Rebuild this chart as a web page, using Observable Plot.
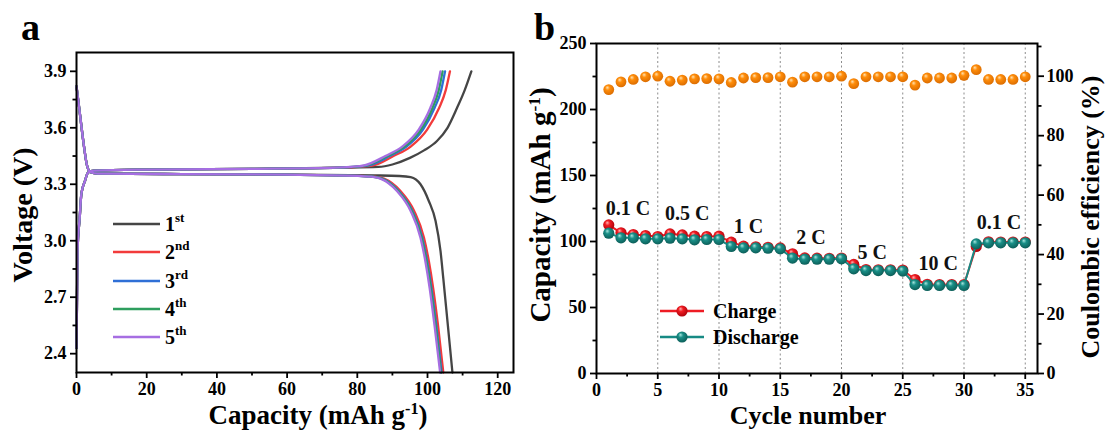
<!DOCTYPE html>
<html>
<head>
<meta charset="utf-8">
<script src="https://cdn.jsdelivr.net/npm/d3@7"></script>
<script src="https://cdn.jsdelivr.net/npm/@observablehq/plot@0.6"></script>
<style>
  html, body { margin: 0; padding: 0; background: #fff; }
  #fig { position: relative; width: 1106px; height: 430px; overflow: hidden; background: #fff;
         font-family: "Liberation Serif", "Times New Roman", serif; }
  #fig svg { position: absolute; top: 0; }
</style>
</head>
<body>
<div id="fig"></div>
<script>
// ---------- (a) galvanostatic charge/discharge profiles ----------
const cycleNames  = ["1st", "2nd", "3rd", "4th", "5th"];
const cycleColors = ["#454545", "#f23b3b", "#2f6fd6", "#2e9e5e", "#a66ee2"];

// [capacity (mAh/g), voltage (V)] pairs for each cycle
const chargeCurves = [
  [[0,2.43],[0.15,2.7],[0.3,2.95],[0.9,3.12],[1.4,3.25],[2.4,3.317],[3.3,3.362],[5,3.372],[20,3.378],[50,3.382],[75,3.388],
   [86,3.392],[90,3.405],[95,3.44],[99,3.48],[102.7,3.53],[105.7,3.6],[108.4,3.705],[110.6,3.8],[112.5,3.9]],
  [[0,2.43],[0.15,2.7],[0.3,2.95],[0.9,3.12],[1.4,3.25],[2.4,3.317],[3.3,3.362],[5,3.372],[20,3.378],[50,3.382],[75,3.388],
   [80,3.392],[84.5,3.40],[90.3,3.45],[95.2,3.5],[99.9,3.59],[103.3,3.705],[105.2,3.8],[106.4,3.9]],
  [[0,2.43],[0.15,2.7],[0.3,2.95],[0.9,3.12],[1.4,3.25],[2.4,3.317],[3.3,3.362],[5,3.372],[20,3.378],[50,3.382],[75,3.388],
   [79,3.392],[83.3,3.40],[89.2,3.45],[94,3.5],[98.7,3.59],[102,3.705],[103.9,3.8],[105,3.9]],
  [[0,2.43],[0.15,2.7],[0.3,2.95],[0.9,3.12],[1.4,3.25],[2.4,3.317],[3.3,3.362],[5,3.372],[20,3.378],[50,3.382],[75,3.388],
   [78.5,3.392],[82.7,3.40],[88.6,3.45],[93.4,3.5],[98.1,3.59],[101.4,3.705],[103.2,3.8],[104.3,3.9]],
  [[0,2.43],[0.15,2.7],[0.3,2.95],[0.9,3.12],[1.4,3.25],[2.4,3.317],[3.3,3.362],[5,3.372],[20,3.378],[50,3.382],[74,3.388],
   [78,3.392],[82,3.40],[88,3.45],[92.8,3.5],[97.5,3.59],[100.8,3.705],[102.6,3.8],[103.7,3.9]]
];

const dischargeCurves = [
  [[0,3.82],[1,3.67],[2,3.52],[3,3.40],[4,3.364],[6,3.357],[30,3.354],[60,3.351],
   [85,3.347],[92,3.344],[95.2,3.338],[98,3.30],[100.4,3.21],[102.3,3.105],[103.7,2.946],[104.5,2.8],[105.8,2.55],[107.1,2.3]],
  [[0,3.82],[1,3.67],[2,3.52],[3,3.40],[4,3.364],[6,3.357],[30,3.354],[60,3.351],
   [81,3.345],[85,3.34],[87.6,3.33],[92.3,3.264],[96.2,3.158],[99,3.016],[100.4,2.89],[101.6,2.75],[103,2.55],[104.5,2.3]],
  [[0,3.82],[1,3.67],[2,3.52],[3,3.40],[4,3.364],[6,3.357],[30,3.354],[60,3.351],
   [80.5,3.345],[84.5,3.34],[87.1,3.33],[91.8,3.264],[95.7,3.158],[98.5,3.016],[99.9,2.89],[101.1,2.75],[102.5,2.55],[104,2.3]],
  [[0,3.82],[1,3.67],[2,3.52],[3,3.40],[4,3.364],[6,3.357],[30,3.354],[60,3.351],
   [80.3,3.345],[84.3,3.34],[86.9,3.33],[91.6,3.264],[95.5,3.158],[98.3,3.016],[99.7,2.89],[100.9,2.75],[102.3,2.55],[103.8,2.3]],
  [[0,3.82],[1,3.67],[2,3.52],[3,3.40],[4,3.364],[6,3.357],[30,3.354],[60,3.351],
   [80,3.345],[84,3.34],[86.6,3.33],[91.3,3.264],[95.2,3.158],[98,3.016],[99.4,2.89],[100.6,2.75],[102,2.55],[103.6,2.3]]
];

const capacityTicksA      = [0, 20, 40, 60, 80, 100, 120];
const capacityMinorTicksA = [10, 30, 50, 70, 90, 110];
const voltageTicks        = [2.4, 2.7, 3.0, 3.3, 3.6, 3.9];
const voltageMinorTicks   = [2.55, 2.85, 3.15, 3.45, 3.75];

// ---------- (b) rate capability ----------
const cycleNumbers = [1,2,3,4,5,6,7,8,9,10,11,12,13,14,15,16,17,18,19,20,21,22,23,24,25,26,27,28,29,30,31,32,33,34,35];
const chargeCapacity = [112.6,106.6,105.3,104.5,103.8,105.8,105,104,103.8,104,
                        99.5,96.5,96,95.6,95.1,90.7,87.6,87.4,87.3,87.5,
                        82.6,78.8,78.6,78.6,78.4,71.2,67.6,67.4,67.4,67.4,
                        96.2,99.8,99.6,99.6,99.6];
const dischargeCapacity = [106.3,102.8,102.8,102,102,102.5,102,101.3,101.5,101.5,
                           96.2,95.2,95.2,94.9,94.4,87.4,86.6,86.6,86.6,86.9,
                           79.3,78,78,78,77.6,67.4,66.7,66.7,66.7,66.7,
                           98.2,99,99,99,99];
const coulombicEfficiency = [95.5,98.1,98.9,99.8,100,98.3,98.7,99.1,99.2,99.1,
                             97.9,99.4,99.5,99.5,99.8,98,99.8,99.8,99.8,100,
                             97.5,99.8,99.8,99.8,99.8,97,99.4,99.4,99.4,100.3,
                             102.2,98.9,98.9,98.9,99.8];

const rateLabels        = ["0.1 C", "0.5 C", "1 C", "2 C", "5 C", "10 C", "0.1 C"];
const rateLabelCycle    = [2.57, 7.4, 12.4, 17.5, 22.5, 27.9, 32.85];
const rateLabelCapacity = [125, 121.2, 111.4, 103, 91.7, 83.3, 114.4];

const cycleTicks        = [0, 5, 10, 15, 20, 25, 30, 35];
const cycleMinorTicks   = [2.5, 7.5, 12.5, 17.5, 22.5, 27.5, 32.5];
const guideCycles       = [5, 10, 15, 20, 25, 30, 35];
const capacityTicksB    = [0, 50, 100, 150, 200, 250];
const capacityMinorB    = [25, 75, 125, 175, 225];
const efficiencyTicks   = [0, 20, 40, 60, 80, 100];
const efficiencyMinor   = [10, 30, 50, 70, 90, 110];

// ---------- shared styling ----------
const serif = "'Liberation Serif', 'Times New Roman', serif";
const baseStyle = { fontFamily: serif, fontWeight: "bold", fontSize: "18px", color: "#000", background: "transparent", overflow: "visible" };
const tickText = { fontSize: 18, fontWeight: "bold", label: null, strokeWidth: 1.8 };

const fig = document.getElementById("fig");

// ---------- panel (a) ----------
const profileRows = [];
cycleNames.forEach((name, i) => {
  chargeCurves[i].forEach(([c, v]) => profileRows.push({ cycle: name, branch: "charge", cap: c, v }));
  dischargeCurves[i].forEach(([c, v]) => profileRows.push({ cycle: name, branch: "discharge", cap: c, v }));
});

const plotA = Plot.plot({
  width: 530, height: 430,
  marginLeft: 76, marginRight: 17, marginTop: 52, marginBottom: 58,
  x: { domain: [0, 124.5] },
  y: { domain: [2.3, 4.0] },
  color: { domain: cycleNames, range: cycleColors },
  style: baseStyle,
  marks: [
    Plot.line(profileRows, { x: "cap", y: "v", z: d => d.cycle + d.branch, stroke: "cycle", strokeWidth: 2.3, curve: "monotone-x" }),
    Plot.axisX({ ticks: capacityTicksA, tickSize: 6, tickPadding: 4, ...tickText }),
    Plot.axisX({ ticks: capacityMinorTicksA, tickSize: 3.5, tickFormat: () => "", label: null, strokeWidth: 1.8 }),
    Plot.axisY({ ticks: voltageTicks, tickSize: 6, tickPadding: 4, tickFormat: d3.format(".1f"), ...tickText }),
    Plot.axisY({ ticks: voltageMinorTicks, tickSize: 3.5, tickFormat: () => "", label: null, strokeWidth: 1.8 }),
    Plot.frame({ stroke: "#000", strokeWidth: 2 })
  ]
});
plotA.style.left = "0px";
fig.appendChild(plotA);

// ---------- panel (b): capacity ----------
const chargeRows    = cycleNumbers.map((n, i) => ({ n, cap: chargeCapacity[i] }));
const dischargeRows = cycleNumbers.map((n, i) => ({ n, cap: dischargeCapacity[i] }));
const effRows       = cycleNumbers.map((n, i) => ({ n, ce: coulombicEfficiency[i] }));
const rateRows      = rateLabels.map((label, i) => ({ label, n: rateLabelCycle[i], cap: rateLabelCapacity[i] }));

const ballDefs = `
  <radialGradient id="ballRed" cx="0.45" cy="0.42" r="0.62" fx="0.36" fy="0.3">
    <stop offset="0" stop-color="#ffb0b0"/><stop offset="0.35" stop-color="#f01c22"/><stop offset="1" stop-color="#a8000a"/>
  </radialGradient>
  <radialGradient id="ballTeal" cx="0.45" cy="0.42" r="0.62" fx="0.36" fy="0.3">
    <stop offset="0" stop-color="#a8e6df"/><stop offset="0.35" stop-color="#1a9088"/><stop offset="1" stop-color="#0b5a55"/>
  </radialGradient>
  <radialGradient id="ballOrange" cx="0.45" cy="0.42" r="0.62" fx="0.36" fy="0.3">
    <stop offset="0" stop-color="#ffe2b0"/><stop offset="0.35" stop-color="#ff8d0a"/><stop offset="1" stop-color="#d86a00"/>
  </radialGradient>`;

const bMargins = { width: 576, height: 430, marginLeft: 66, marginRight: 69, marginTop: 43, marginBottom: 57 };

const plotB = Plot.plot({
  ...bMargins,
  x: { domain: [0, 36] },
  y: { domain: [0, 250] },
  style: baseStyle,
  marks: [
    Plot.ruleX(guideCycles, { stroke: "#8c8c8c", strokeWidth: 1, strokeDasharray: "2,2.5" }),
    Plot.line(chargeRows, { x: "n", y: "cap", stroke: "#ee1c24", strokeWidth: 2 }),
    Plot.dot(chargeRows, { x: "n", y: "cap", r: 5.6, fill: "url(#ballRed)" }),
    Plot.line(dischargeRows, { x: "n", y: "cap", stroke: "#178a84", strokeWidth: 2 }),
    Plot.dot(dischargeRows, { x: "n", y: "cap", r: 5.6, fill: "url(#ballTeal)" }),
    Plot.text(rateRows, { x: "n", y: "cap", text: "label", fontSize: 20, fontWeight: "bold", fill: "#111" }),
    Plot.axisX({ ticks: cycleTicks, tickSize: 6, tickPadding: 4, ...tickText }),
    Plot.axisX({ ticks: cycleMinorTicks, tickSize: 3.5, tickFormat: () => "", label: null, strokeWidth: 1.8 }),
    Plot.axisY({ ticks: capacityTicksB, tickSize: 6, tickPadding: 4, ...tickText }),
    Plot.axisY({ ticks: capacityMinorB, tickSize: 3.5, tickFormat: () => "", label: null, strokeWidth: 1.8 }),
    Plot.frame({ stroke: "#000", strokeWidth: 2 })
  ]
});
d3.select(plotB).insert("defs", ":first-child").html(ballDefs);
plotB.style.left = "530px";
fig.appendChild(plotB);

// ---------- panel (b): coulombic efficiency on the right axis ----------
const plotC = Plot.plot({
  ...bMargins,
  x: { domain: [0, 36], axis: null },
  y: { domain: [0, 111] },
  style: baseStyle,
  marks: [
    Plot.dot(effRows, { x: "n", y: "ce", r: 5.4, fill: "url(#ballCOrange)" }),
    Plot.axisY({ anchor: "right", ticks: efficiencyTicks, tickSize: 6, tickPadding: 3, ...tickText }),
    Plot.axisY({ anchor: "right", ticks: efficiencyMinor, tickSize: 3.5, tickFormat: () => "", label: null, strokeWidth: 1.8 })
  ]
});
d3.select(plotC).insert("defs", ":first-child").html(ballDefs.replace(/id="ball/g, 'id="ballC'));
plotC.style.left = "530px";
fig.appendChild(plotC);

// ---------- titles, panel letters and legends ----------
const ann = d3.select(fig).append("svg")
  .attr("width", 1106).attr("height", 430)
  .style("left", "0px")
  .attr("font-family", serif).attr("font-weight", "bold").attr("fill", "#000");

ann.append("text").attr("x", 21).attr("y", 40).attr("font-size", 38).text("a");
ann.append("text").attr("x", 534).attr("y", 40).attr("font-size", 38).text("b");

function unitTitle(sel, text, sup, close) {
  sel.append("tspan").text(text);
  sel.append("tspan").attr("font-size", "0.6em").attr("dy", "-0.6em").text(sup);
  sel.append("tspan").attr("dy", "0.36em").text(close);
}

unitTitle(ann.append("text").attr("x", 318).attr("y", 424).attr("font-size", 27).attr("text-anchor", "middle"),
          "Capacity (mAh g", "-1", ")");
ann.append("text").attr("transform", "translate(32,215) rotate(-90)").attr("font-size", 28)
  .attr("text-anchor", "middle").text("Voltage (V)");

ann.append("text").attr("x", 808).attr("y", 424).attr("font-size", 26).attr("text-anchor", "middle").text("Cycle number");
unitTitle(ann.append("text").attr("transform", "translate(550,205) rotate(-90)").attr("font-size", 29).attr("text-anchor", "middle"),
          "Capacity (mAh g", "-1", ")");
ann.append("text").attr("transform", "translate(1099,217) rotate(-90)").attr("font-size", 26)
  .attr("text-anchor", "middle").text("Coulombic efficiency (%)");

// legend (a)
const supers = ["st", "nd", "rd", "th", "th"];
const legendAY = [224, 252, 281, 309, 337];
cycleNames.forEach((name, i) => {
  ann.append("line").attr("x1", 113).attr("x2", 160).attr("y1", legendAY[i]).attr("y2", legendAY[i])
    .attr("stroke", cycleColors[i]).attr("stroke-width", 2.5);
  const t = ann.append("text").attr("x", 165).attr("y", legendAY[i] + 7).attr("font-size", 20);
  t.append("tspan").text(name.charAt(0));
  t.append("tspan").attr("font-size", 13).attr("dy", -9).text(supers[i]);
});

// legend (b)
const legendB = [
  { label: "Charge", color: "#ee1c24", fill: "url(#ballRed)", y: 311 },
  { label: "Discharge", color: "#178a84", fill: "url(#ballTeal)", y: 337 }
];
legendB.forEach(d => {
  ann.append("line").attr("x1", 660).attr("x2", 704).attr("y1", d.y).attr("y2", d.y)
    .attr("stroke", d.color).attr("stroke-width", 2.5);
  ann.append("circle").attr("cx", 682).attr("cy", d.y).attr("r", 5.6).attr("fill", d.fill);
  ann.append("text").attr("x", 713).attr("y", d.y + 7).attr("font-size", 20).text(d.label);
});
</script>
</body>
</html>
